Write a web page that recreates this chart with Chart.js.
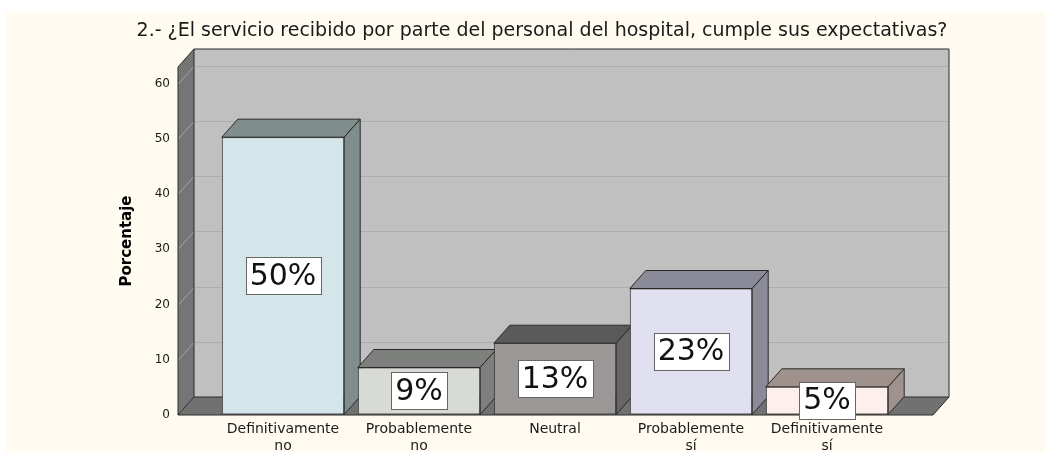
<!DOCTYPE html>
<html>
<head>
<meta charset="utf-8">
<script src="https://cdn.jsdelivr.net/npm/chart.js@4.4.1/dist/chart.umd.min.js"></script>
<style>
  body { margin: 0; background: #fff; }
  #wrap { width: 1052px; height: 452px; }
</style>
</head>
<body>
<div id="wrap"><canvas id="chart" width="1052" height="452"></canvas></div>
<script>
// data
const categories = [
  ['Definitivamente', 'no'],
  ['Probablemente', 'no'],
  'Neutral',
  ['Probablemente', 'sí'],
  ['Definitivamente', 'sí']
];
const percentValues = [50.3, 8.6, 13.0, 22.9, 5.1];
const valueLabels = ['50%', '9%', '13%', '23%', '5%'];
const yTicks = [0, 10, 20, 30, 40, 50, 60];
const yMax = 63;

// bar colours (front / top / side)
const frontColors = ['#d5e6ea', '#d8dad6', '#9b9796', '#e0e0f0', '#fdf0ec'];
const topColors = ['#7f8d8c', '#7e807d', '#5a5a5a', '#8a8a98', '#9f928d'];
const sideColors = ['#7f8d8c', '#7e807d', '#666666', '#8a8a98', '#9f928d'];

const FONT = "'DejaVu Sans', sans-serif";
const DX = 16, DY = -18; // depth of the 3d look

function poly(ctx, pts, fill, stroke) {
  ctx.beginPath();
  ctx.moveTo(pts[0][0], pts[0][1]);
  for (let i = 1; i < pts.length; i++) ctx.lineTo(pts[i][0], pts[i][1]);
  ctx.closePath();
  if (fill) { ctx.fillStyle = fill; ctx.fill(); }
  if (stroke) { ctx.strokeStyle = stroke; ctx.lineWidth = 1; ctx.stroke(); }
}

const box3d = {
  id: 'box3d',
  beforeDraw(chart) {
    const { ctx, chartArea: a, scales: { y } } = chart;
    const L = a.left - 37, R = a.right + 38, T = a.top, B = a.bottom;
    ctx.save();
    ctx.fillStyle = '#fffbf0';
    ctx.fillRect(6, 12, 1039, 440);
    // back wall
    poly(ctx, [[L + DX, T + DY], [R + DX, T + DY], [R + DX, B + DY], [L + DX, B + DY]], '#c0c0c0');
    ctx.lineWidth = 1;
    yTicks.forEach(v => {
      if (v === 0) return;
      const py = Math.round(y.getPixelForValue(v)) + 0.5;
      ctx.strokeStyle = '#adadad';
      ctx.beginPath(); ctx.moveTo(L + DX, py + DY); ctx.lineTo(R + DX, py + DY); ctx.stroke();
    });
    // side wall
    poly(ctx, [[L, T], [L + DX, T + DY], [L + DX, B + DY], [L, B]], '#757575');
    yTicks.forEach(v => {
      if (v === 0) return;
      const py = Math.round(y.getPixelForValue(v)) + 0.5;
      ctx.strokeStyle = '#a5a5a5';
      ctx.beginPath(); ctx.moveTo(L, py); ctx.lineTo(L + DX, py + DY); ctx.stroke();
    });
    // floor
    poly(ctx, [[L, B], [L + DX, B + DY], [R + DX, B + DY], [R, B]], '#717171');
    // edges
    ctx.strokeStyle = '#2a2a2a';
    ctx.beginPath();
    ctx.moveTo(L, B); ctx.lineTo(L, T); ctx.lineTo(L + DX, T + DY); ctx.lineTo(R + DX, T + DY);
    ctx.lineTo(R + DX, B + DY); ctx.lineTo(R, B); ctx.lineTo(L, B);
    ctx.moveTo(L + DX, T + DY); ctx.lineTo(L + DX, B + DY); ctx.lineTo(R + DX, B + DY);
    ctx.moveTo(L + DX, B + DY); ctx.lineTo(L, B);
    ctx.stroke();
    ctx.restore();
  },
  beforeDatasetsDraw(chart) {
    const { ctx } = chart;
    const meta = chart.getDatasetMeta(0);
    ctx.save();
    meta.data.forEach((el, i) => {
      const { x, y, width, base } = el.getProps(['x', 'y', 'width', 'base'], true);
      const l = x - width / 2, r = x + width / 2;
      poly(ctx, [[l, y], [l + DX, y + DY], [r + DX, y + DY], [r, y]], topColors[i], '#2a2a2a');
      poly(ctx, [[r, y], [r + DX, y + DY], [r + DX, base + DY], [r, base]], sideColors[i], '#2a2a2a');
    });
    ctx.restore();
  },
  afterDatasetsDraw(chart) {
    const { ctx } = chart;
    const meta = chart.getDatasetMeta(0);
    ctx.save();
    ctx.font = '30px ' + FONT;
    ctx.textAlign = 'center';
    ctx.textBaseline = 'middle';
    meta.data.forEach((el, i) => {
      const { x, y, base } = el.getProps(['x', 'y', 'base'], true);
      const cy = (y + base) / 2;
      const w = ctx.measureText(valueLabels[i]).width + 8;
      const h = 37;
      ctx.fillStyle = '#ffffff';
      ctx.fillRect(Math.round(x - w / 2) + 0.5, Math.round(cy - h / 2) + 0.5, Math.round(w), h);
      ctx.strokeStyle = '#666666';
      ctx.lineWidth = 1;
      ctx.strokeRect(Math.round(x - w / 2) + 0.5, Math.round(cy - h / 2) + 0.5, Math.round(w), h);
      ctx.fillStyle = '#111111';
      ctx.fillText(valueLabels[i], x, cy + 1);
    });
    ctx.restore();
  }
};

const ctx = document.getElementById('chart').getContext('2d');
new Chart(ctx, {
  type: 'bar',
  data: {
    labels: categories,
    datasets: [{
      label: 'Porcentaje',
      data: percentValues,
      backgroundColor: frontColors,
      borderColor: '#2a2a2a',
      borderWidth: 1,
      borderSkipped: false,
      categoryPercentage: 1,
      barPercentage: 0.9
    }]
  },
  options: {
    responsive: false,
    animation: false,
    devicePixelRatio: 1,
    layout: { padding: { left: 32, right: 0, top: 0, bottom: 0 } },
    plugins: {
      legend: { display: false },
      tooltip: { enabled: false },
      title: {
        display: true,
        text: '2.- ¿El servicio recibido por parte del personal del hospital, cumple sus expectativas?',
        color: '#1a1a1a',
        font: { family: FONT, size: 19, weight: 'normal', lineHeight: 1.2 },
        padding: { top: 19.6, bottom: 24.6 }
      }
    },
    scales: {
      x: {
        grid: { display: false, drawTicks: false },
        border: { display: false },
        ticks: { color: '#1a1a1a', padding: 6, font: { family: FONT, size: 14, lineHeight: 1.2 } },
        afterFit: s => { s.height = 37; }
      },
      y: {
        min: 0,
        max: yMax,
        // invisible tick marks only push the labels away from the wall
        grid: { drawOnChartArea: false, drawTicks: true, tickLength: 41, color: 'rgba(0,0,0,0)' },
        border: { display: false },
        afterBuildTicks: s => { s.ticks = yTicks.map(v => ({ value: v })); },
        ticks: { color: '#1a1a1a', padding: 4, font: { family: FONT, size: 12 } },
        title: {
          display: true,
          text: 'Porcentaje',
          color: '#000',
          font: { family: FONT, size: 15, weight: 'bold', lineHeight: 1.2 },
          padding: { top: 86, bottom: 0 }
        },
        afterFit: s => { s.width = 183; }
      },
      y2: {
        axis: 'y',
        position: 'right',
        grid: { display: false, drawTicks: false },
        border: { display: false },
        ticks: { display: false },
        afterFit: s => { s.width = 157; }
      }
    }
  },
  plugins: [box3d]
});
</script>
</body>
</html>
